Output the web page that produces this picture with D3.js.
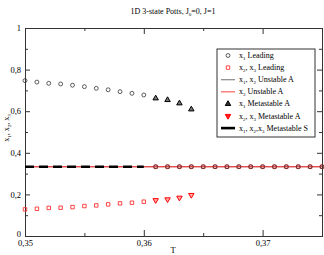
<!DOCTYPE html>
<html>
<head>
  <meta charset="UTF-8">
  <style>
  body { margin:0; background:#fff; }
  text { font-family:"Liberation Serif","Times New Roman",serif; fill:#000; }
  </style>
</head>
<body>
  <div id="chart"></div>
  <script src="https://d3js.org/d3.v7.min.js"></script>
  <script>
    // leading solution, T = 0.350 ... 0.375
    var tLead = [0.350,0.351,0.352,0.353,0.354,0.355,0.356,0.357,0.358,0.359,0.360,
                 0.361,0.362,0.363,0.364,0.365,0.366,0.367,0.368,0.369,0.370,
                 0.371,0.372,0.373,0.374,0.375];
    var x1Lead = [0.747,0.740,0.734,0.731,0.725,0.718,0.710,0.703,0.694,0.686,0.678,
                  0.333,0.333,0.333,0.333,0.333,0.333,0.333,0.333,0.333,0.333,
                  0.333,0.333,0.333,0.333,0.333];
    var x23Lead = [0.128,0.131,0.135,0.136,0.139,0.144,0.147,0.152,0.157,0.160,0.165,
                   0.333,0.333,0.333,0.333,0.333,0.333,0.333,0.333,0.333,0.333,
                   0.333,0.333,0.333,0.333,0.333];

    // metastable A
    var tMeta = [0.361,0.362,0.363,0.364];
    var x1Meta = [0.662,0.654,0.638,0.609];
    var x23Meta = [0.172,0.176,0.184,0.197];

    // unstable A and metastable S lines
    var tUnst = [0.350,0.375];
    var x12Unst = [0.333,0.333];
    var x3Unst = [0.333,0.333];
    var tMetaS = [0.350,0.360];
    var xMetaS = [0.333,0.333];

    var xTicks = [0.35,0.36,0.37];
    var xMinor = [0.355,0.365,0.375];
    var yTicks = [0,0.2,0.4,0.6,0.8,1];
    var yMinor = [0.1,0.3,0.5,0.7,0.9];

    var width = 324, height = 255;
    var margin = {top:28, right:2, bottom:19, left:25};

    var svg = d3.select("#chart").append("svg")
      .attr("width", width)
      .attr("height", height);

    var x = d3.scaleLinear().domain([0.35,0.375]).range([margin.left, width - margin.right]);
    var y = d3.scaleLinear().domain([0,1]).range([height - margin.bottom, margin.top]);

    var fmt = function(d) { return d3.format("")(d).replace(".", ","); };

    // axes, ticks pointing inward
    svg.append("g")
        .attr("transform", "translate(0," + y(0) + ")")
        .call(d3.axisBottom(x).tickValues(xTicks).tickSize(-6).tickPadding(3.5).tickFormat(fmt));
    svg.append("g")
        .attr("transform", "translate(0," + y(0) + ")")
        .call(d3.axisBottom(x).tickValues(xMinor).tickSize(-3).tickFormat(""));
    svg.append("g")
        .attr("transform", "translate(0," + y(1) + ")")
        .call(d3.axisTop(x).tickValues(xTicks).tickSize(-6).tickFormat(""));
    svg.append("g")
        .attr("transform", "translate(0," + y(1) + ")")
        .call(d3.axisTop(x).tickValues(xMinor).tickSize(-3).tickFormat(""));
    var yAx = svg.append("g")
        .attr("transform", "translate(" + x(0.35) + ",0)")
        .call(d3.axisLeft(y).tickValues(yTicks).tickSize(-5).tickPadding(4).tickFormat(fmt));
    // lift the "0" a little so it clears "0,35"
    yAx.selectAll(".tick text").filter(function(d) { return d === 0; }).attr("dy", "0.1em");
    svg.append("g")
        .attr("transform", "translate(" + x(0.35) + ",0)")
        .call(d3.axisLeft(y).tickValues(yMinor).tickSize(-3).tickFormat(""));
    svg.append("g")
        .attr("transform", "translate(" + x(0.375) + ",0)")
        .call(d3.axisRight(y).tickValues(yTicks).tickSize(-5).tickFormat(""));
    svg.append("g")
        .attr("transform", "translate(" + x(0.375) + ",0)")
        .call(d3.axisRight(y).tickValues(yMinor).tickSize(-3).tickFormat(""));

    svg.selectAll(".domain").attr("stroke", "#333");
    svg.selectAll(".tick line").attr("stroke", "#333");
    svg.selectAll(".tick text").style("font-family", "Liberation Serif, serif").style("font-size", "8.5px");

    // lines
    function lineOf(ts, vs) {
      return d3.line().x(function(d, i) { return x(ts[i]); }).y(function(d) { return y(d); })(vs);
    }
    svg.append("path").attr("d", lineOf(tUnst, x12Unst))
      .attr("fill", "none").attr("stroke", "#888").attr("stroke-width", 1.2);
    svg.append("path").attr("d", lineOf(tUnst, x3Unst))
      .attr("fill", "none").attr("stroke", "#ff2a2a").attr("stroke-width", 1.2);
    svg.append("path").attr("d", lineOf(tMetaS, xMetaS))
      .attr("fill", "none").attr("stroke", "#000").attr("stroke-width", 2.6)
      .attr("stroke-dasharray", "9,5");

    var sym = {
      circle: d3.symbol().type(d3.symbolCircle).size(12),
      square: d3.symbol().type(d3.symbolSquare).size(12),
      tri: d3.symbol().type(d3.symbolTriangle).size(13)
    };

    svg.append("g").selectAll("path").data(x23Lead).join("path")
      .attr("transform", function(d, i) { return "translate(" + x(tLead[i]) + "," + y(d) + ")"; })
      .attr("d", sym.square()).attr("fill", "none").attr("stroke", "#ff3030").attr("stroke-width", 0.9);
    svg.append("g").selectAll("path").data(x1Lead).join("path")
      .attr("transform", function(d, i) { return "translate(" + x(tLead[i]) + "," + y(d) + ")"; })
      .attr("d", sym.circle()).attr("fill", "none").attr("stroke", "#333").attr("stroke-width", 0.8);
    svg.append("g").selectAll("path").data(x1Meta).join("path")
      .attr("transform", function(d, i) { return "translate(" + x(tMeta[i]) + "," + y(d) + ")"; })
      .attr("d", sym.tri()).attr("fill", "#777").attr("stroke", "#000").attr("stroke-width", 1);
    svg.append("g").selectAll("path").data(x23Meta).join("path")
      .attr("transform", function(d, i) { return "translate(" + x(tMeta[i]) + "," + y(d) + ") rotate(180)"; })
      .attr("d", sym.tri()).attr("fill", "#ffaaaa").attr("stroke", "#ff0000").attr("stroke-width", 1);

    // text with subscripts
    function richText(sel, parts) {
      var shift = 0;
      parts.forEach(function(p) {
        if (typeof p === "string") {
          sel.append("tspan").attr("dy", -shift).text(p);
          shift = 0;
        } else {
          sel.append("tspan").attr("dy", 2).style("font-size", "5px").text(p.sub);
          shift = 2;
        }
      });
      return sel;
    }

    richText(svg.append("text").attr("x", 173).attr("y", 14).attr("text-anchor", "middle")
      .style("font-size", "8px"), ["1D 3-state Potts, J", {sub:"0"}, "=0, J=1"]);

    svg.append("text").attr("x", 173).attr("y", 253).attr("text-anchor", "middle")
      .style("font-size", "8.5px").text("T");

    richText(svg.append("text").attr("transform", "translate(9,128) rotate(-90)")
      .attr("text-anchor", "middle").style("font-size", "8px"),
      ["x", {sub:"1"}, ", x", {sub:"2"}, ", x", {sub:"3"}, ""]);

    // legend
    var lg = svg.append("g").attr("transform", "translate(217,49)");
    lg.append("rect").attr("width", 98).attr("height", 88)
      .attr("fill", "#fff").attr("stroke", "#333").attr("stroke-width", 1);
    var items = [
      {kind:"circle", label:["x", {sub:"1"}, " Leading"]},
      {kind:"square", label:["x", {sub:"2"}, ", x", {sub:"3"}, " Leading"]},
      {kind:"gray", label:["x", {sub:"1"}, ", x", {sub:"2"}, " Unstable A"]},
      {kind:"red", label:["x", {sub:"3"}, " Unstable A"]},
      {kind:"tri", label:["x", {sub:"1"}, " Metastable A"]},
      {kind:"dtri", label:["x", {sub:"2"}, ", x", {sub:"3"}, " Metastable A"]},
      {kind:"black", label:["x", {sub:"1"}, ", x", {sub:"2"}, ",x", {sub:"3"}, " Metastable S"]}
    ];
    items.forEach(function(it, i) {
      var cy = 6.5 + i * 12.1;
      if (it.kind === "circle")
        lg.append("path").attr("transform", "translate(11," + cy + ")").attr("d", sym.circle())
          .attr("fill", "none").attr("stroke", "#333").attr("stroke-width", 0.8);
      if (it.kind === "square")
        lg.append("path").attr("transform", "translate(11," + cy + ")").attr("d", sym.square())
          .attr("fill", "none").attr("stroke", "#ff3030").attr("stroke-width", 0.9);
      if (it.kind === "tri")
        lg.append("path").attr("transform", "translate(11," + cy + ")").attr("d", sym.tri())
          .attr("fill", "#333").attr("stroke", "#000").attr("stroke-width", 1);
      if (it.kind === "dtri")
        lg.append("path").attr("transform", "translate(11," + cy + ") rotate(180)").attr("d", sym.tri())
          .attr("fill", "#ff2020").attr("stroke", "#ff0000").attr("stroke-width", 1);
      if (it.kind === "gray" || it.kind === "red" || it.kind === "black")
        lg.append("line").attr("x1", 4).attr("x2", 18).attr("y1", cy).attr("y2", cy)
          .attr("stroke", it.kind === "gray" ? "#888" : it.kind === "red" ? "#ff6060" : "#000")
          .attr("stroke-width", it.kind === "black" ? 2.6 : 1.2);
      richText(lg.append("text").attr("x", 22).attr("y", cy + 2.5).style("font-size", "8px"), it.label);
    });
  </script>
</body>
</html>
